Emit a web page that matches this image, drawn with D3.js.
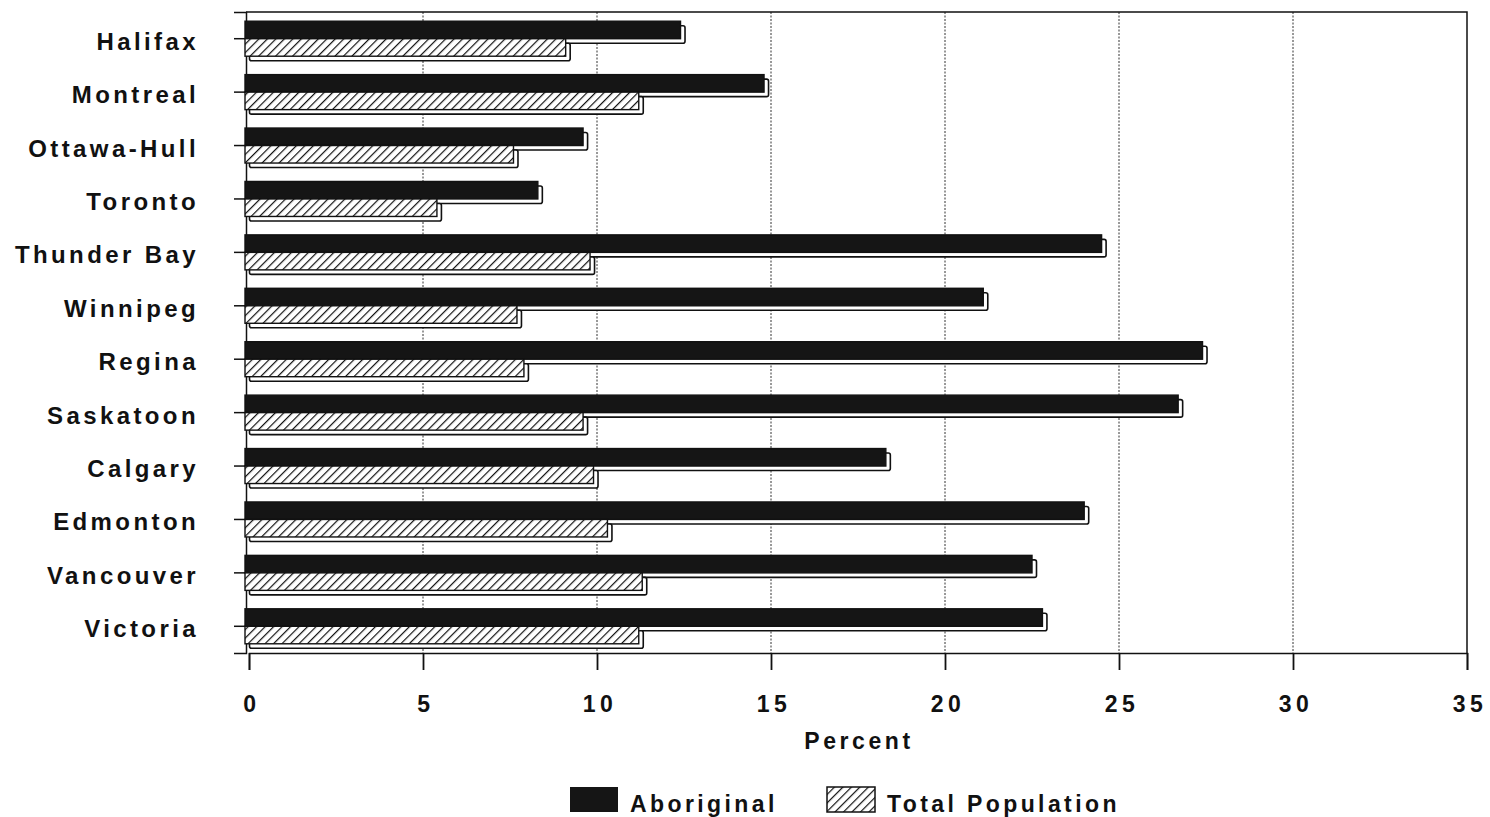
<!DOCTYPE html>
<html>
<head>
<meta charset="utf-8">
<script src="https://cdn.jsdelivr.net/npm/d3@7"></script>
<style>
  body { margin: 0; background: #fff; }
  text { font-family: "Liberation Sans", Arial, sans-serif; font-weight: bold; fill: #111; }
</style>
</head>
<body>
<svg id="chart" width="1490" height="817"></svg>
<script>
const cities = ["Halifax", "Montreal", "Ottawa-Hull", "Toronto", "Thunder Bay", "Winnipeg",
  "Regina", "Saskatoon", "Calgary", "Edmonton", "Vancouver", "Victoria"];
const aboriginal = [12.4, 14.8, 9.6, 8.3, 24.5, 21.1, 27.4, 26.7, 18.3, 24.0, 22.5, 22.8];
const totalPop = [9.1, 11.2, 7.6, 5.4, 9.8, 7.7, 7.9, 9.6, 9.9, 10.3, 11.3, 11.2];
const xTicks = [0, 5, 10, 15, 20, 25, 30, 35];
const seriesNames = ["Aboriginal", "Total Population"];

const svg = d3.select("#chart");
const plotLeft = 249, plotRight = 1467, plotTop = 12, plotBottom = 653;

const x = d3.scaleLinear().domain([0, 35]).range([plotLeft, plotRight]);
const y = d3.scaleBand().domain(cities).range([plotTop, plotBottom]);

// hatch pattern
const defs = svg.append("defs");
const pat = defs.append("pattern")
  .attr("id", "hatch")
  .attr("patternUnits", "userSpaceOnUse")
  .attr("width", 6).attr("height", 6)
  .attr("patternTransform", "rotate(45)");
pat.append("rect").attr("width", 6).attr("height", 6).attr("fill", "#fff");
pat.append("line").attr("x1", 0).attr("y1", 0).attr("x2", 0).attr("y2", 6)
  .attr("stroke", "#111").attr("stroke-width", 2.4);

// gridlines
svg.append("g")
  .selectAll("line")
  .data(xTicks.slice(1, -1))
  .join("line")
  .attr("x1", (d) => x(d)).attr("x2", (d) => x(d))
  .attr("y1", plotTop).attr("y2", plotBottom)
  .attr("stroke", "#333").attr("stroke-width", 1)
  .attr("stroke-dasharray", "2,1.5");

// frame: top + right
svg.append("path")
  .attr("d", `M${plotLeft - 3},${plotTop}H${plotRight}V${plotBottom}`)
  .attr("fill", "none").attr("stroke", "#111").attr("stroke-width", 1.5);

// x axis
const xAxis = d3.axisBottom(x).tickValues(xTicks).tickSize(17).tickFormat("");
const gx = svg.append("g").attr("transform", `translate(0,${plotBottom})`).call(xAxis);
gx.select(".domain").attr("stroke", "#111").attr("stroke-width", 1.5);
gx.selectAll(".tick line").attr("stroke", "#111").attr("stroke-width", 1.8);

svg.append("g")
  .selectAll("text")
  .data(xTicks)
  .join("text")
  .attr("x", (d) => x(d) + 3)
  .attr("y", 712)
  .attr("text-anchor", "middle")
  .style("font-size", "23px")
  .style("letter-spacing", "4.5px")
  .text((d) => d);

svg.append("text")
  .attr("x", 859).attr("y", 749)
  .attr("text-anchor", "middle")
  .style("font-size", "23px")
  .style("letter-spacing", "3.6px")
  .text("Percent");

// y axis
const yAxis = d3.axisLeft(y).tickSize(12).tickFormat("");
const gy = svg.append("g").attr("transform", `translate(${plotLeft - 3},0)`).call(yAxis);
gy.select(".domain").attr("stroke", "#111").attr("stroke-width", 1.5);
gy.selectAll(".tick line").attr("stroke", "#111").attr("stroke-width", 1.5);

svg.append("g")
  .selectAll("text")
  .data(cities)
  .join("text")
  .attr("x", 199)
  .attr("y", (d) => y(d) + y.bandwidth() / 2 + 11)
  .attr("text-anchor", "end")
  .style("font-size", "24px")
  .style("letter-spacing", "3.4px")
  .text((d) => d);

// bars with 3D offset
const bh = 17.5, dep = 4.5;
const rows = cities.map((c, i) => ({ city: c, abo: aboriginal[i], tot: totalPop[i] }));
const bars = svg.append("g");

rows.forEach((d) => {
  const c = y(d.city) + y.bandwidth() / 2;
  const x0 = x(0) - 4;
  const items = [
    { v: d.abo, y0: c - bh, fill: "#151515" },
    { v: d.tot, y0: c, fill: "url(#hatch)" },
  ];
  items.forEach((it) => {
    const w = x(it.v) - x0;
    bars.append("rect")
      .attr("x", x0 + dep).attr("y", it.y0 + dep)
      .attr("width", w).attr("height", bh)
      .attr("rx", 2)
      .attr("fill", "#fff").attr("stroke", "#111").attr("stroke-width", 1.6);
    bars.append("rect")
      .attr("x", x0).attr("y", it.y0)
      .attr("width", w).attr("height", bh)
      .attr("fill", it.fill).attr("stroke", "#111").attr("stroke-width", 1.4);
  });
});

// legend
const legend = svg.append("g");
legend.append("rect").attr("x", 570).attr("y", 787).attr("width", 48).attr("height", 25)
  .attr("fill", "#151515");
legend.append("text").attr("x", 630).attr("y", 812)
  .style("font-size", "23px").style("letter-spacing", "3.4px").text(seriesNames[0]);
legend.append("rect").attr("x", 827).attr("y", 787).attr("width", 48).attr("height", 25)
  .attr("fill", "url(#hatch)").attr("stroke", "#111").attr("stroke-width", 1.5);
legend.append("text").attr("x", 887).attr("y", 812)
  .style("font-size", "23px").style("letter-spacing", "3.4px").text(seriesNames[1]);
</script>
</body>
</html>
